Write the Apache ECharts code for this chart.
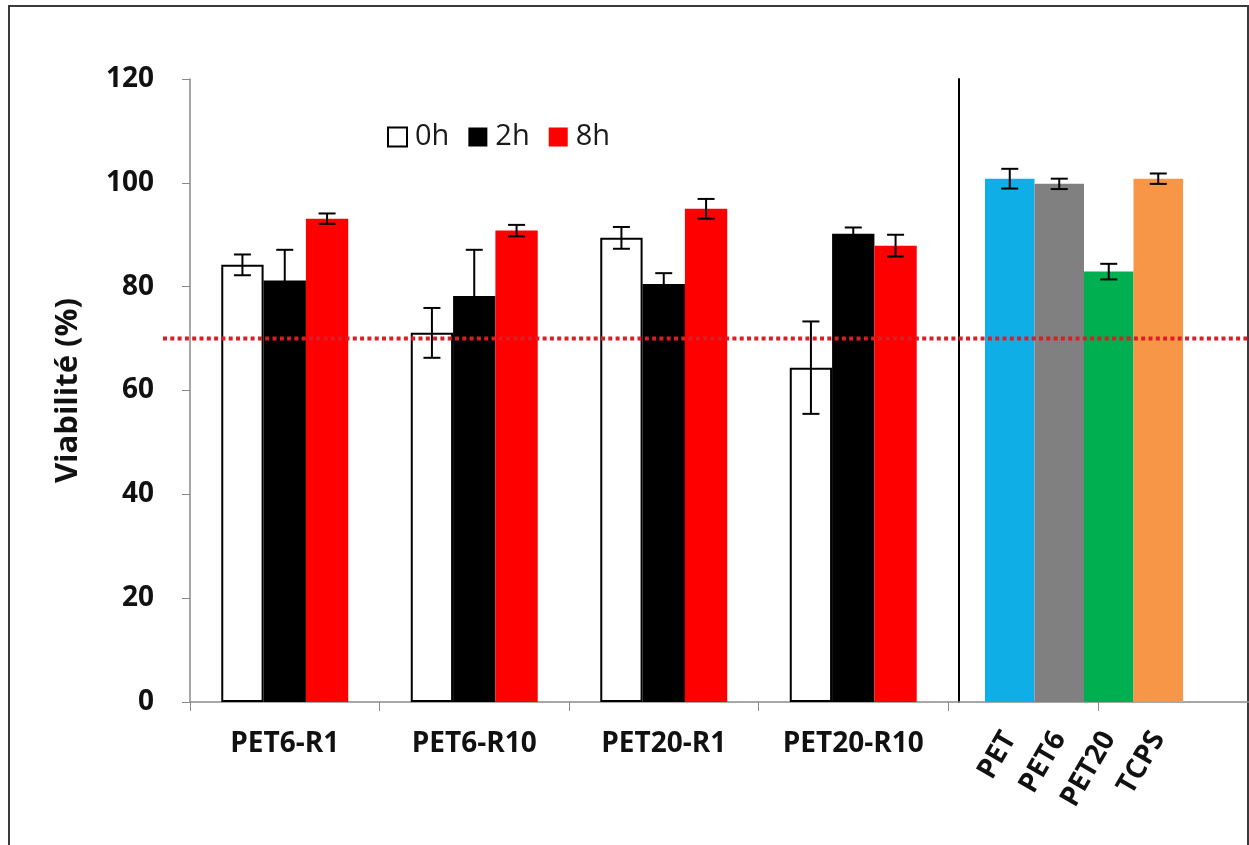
<!DOCTYPE html>
<html>
<head>
<meta charset="utf-8">
<script src="https://cdn.jsdelivr.net/npm/echarts@6/dist/echarts.min.js"></script>
<style>
  html, body { margin: 0; padding: 0; background: #fff; }
  #chart { width: 1249px; height: 845px; }
</style>
</head>
<body>
<div id="chart"></div>
<script>
// Cell viability after exposure (0h / 2h / 8h) and controls
const categories = ['PET6-R1', 'PET6-R10', 'PET20-R1', 'PET20-R10'];
const h0 = [84.2, 71.1, 89.4, 64.4];
const h0Err = [2, 4.8, 2.1, 8.9];
const h2 = [81.2, 78.2, 80.5, 90.2];
const h2Err = [5.9, 8.9, 2.1, 1.2];
const h8 = [93.1, 90.8, 95, 87.9];
const h8Err = [1, 1.1, 1.9, 2.1];

const controlNames = ['PET', 'PET6', 'PET20', 'TCPS'];
const controlValues = [100.8, 99.8, 82.9, 100.8];
const controlErr = [1.9, 1, 1.5, 1];
const controlColors = ['#10aee6', '#808080', '#00b050', '#f79646'];

const yTicks = [0, 20, 40, 60, 80, 100, 120];
const threshold = 70;

const FONT = '"Open Sans", "Liberation Sans", sans-serif';
const GAP = 0.33;

const chart = echarts.init(document.getElementById('chart'));

function errorBarShape(api, x, lo, hi) {
  const cap = 8.5;
  const style = { stroke: '#000', lineWidth: 2 };
  return {
    type: 'group',
    children: [
      { type: 'line', shape: { x1: x, y1: lo, x2: x, y2: hi }, style },
      { type: 'line', shape: { x1: x - cap, y1: lo, x2: x + cap, y2: lo }, style },
      { type: 'line', shape: { x1: x - cap, y1: hi, x2: x + cap, y2: hi }, style }
    ]
  };
}

function groupedErrorSeries(name, values, errs, slot) {
  return {
    type: 'custom',
    name: name + ' err',
    xAxisIndex: 0, yAxisIndex: 0,
    z: 5,
    data: values.map((v, i) => [i, v - errs[i], v + errs[i]]),
    encode: { x: 0, y: [1, 2] },
    renderItem: function (params, api) {
      const band = api.size([1, 0])[0];
      const bw = band * (1 - GAP) / 3;
      const lo = api.coord([api.value(0), api.value(1)]);
      const hi = api.coord([api.value(0), api.value(2)]);
      return errorBarShape(api, lo[0] + (slot - 1) * bw, lo[1], hi[1]);
    }
  };
}

const yAxisBase = { type: 'value', min: 0, max: 120, interval: 20 };

const option = {
  animation: false,
  backgroundColor: '#fff',
  graphic: [{
    type: 'rect',
    shape: { x: 9, y: 6, width: 1239, height: 900 },
    style: { fill: 'none', stroke: '#3a3a3a', lineWidth: 2 },
    silent: true
  }],
  legend: {
    data: ['0h', '2h', '8h'],
    left: 382, top: 117,
    itemWidth: 19, itemHeight: 19, itemGap: 19,
    icon: 'rect',
    textStyle: { fontFamily: FONT, fontSize: 29, color: '#1a1a1a', lineHeight: 30, padding: [0, 0, 0, 3] }
  },
  grid: [
    { left: 190, top: 79, width: 758, height: 623 },
    { left: 985, top: 79, width: 198, height: 623 },
    { left: 948, top: 79, width: 510, height: 623 },
    { left: 163, top: 79, width: 1100, height: 623 }
  ],
  xAxis: [
    {
      gridIndex: 0, type: 'category', data: categories,
      axisLine: { lineStyle: { color: '#8a8a8a', width: 1.5 } },
      axisTick: { show: true, length: 9, lineStyle: { color: '#8a8a8a' } },
      axisLabel: { interval: 0, fontFamily: FONT, fontWeight: 'bold', fontSize: 28, color: '#111', margin: 28 }
    },
    {
      gridIndex: 1, type: 'category', data: controlNames,
      axisLine: { show: false }, axisTick: { show: false },
      axisLabel: { interval: 0, rotate: 60, fontFamily: FONT, fontWeight: 'bold', fontSize: 28, color: '#111', margin: 32 }
    },
    {
      gridIndex: 2, type: 'category', data: ['', ''],
      axisLine: { lineStyle: { color: '#8a8a8a', width: 1.5 } },
      axisTick: { show: true, length: 9, lineStyle: { color: '#8a8a8a' } },
      axisLabel: { show: false }
    },
    { gridIndex: 3, type: 'value', min: 0, max: 1, show: false }
  ],
  yAxis: [
    Object.assign({}, yAxisBase, {
      gridIndex: 0,
      name: 'Viabilité (%)', nameLocation: 'middle', nameGap: 106,
      nameTextStyle: { fontFamily: FONT, fontWeight: 'bold', fontSize: 31, color: '#111' },
      axisLine: { show: true, lineStyle: { color: '#8a8a8a', width: 1.5 } },
      axisTick: { show: true, length: 8, lineStyle: { color: '#8a8a8a' } },
      splitLine: { show: false },
      axisLabel: {
        fontFamily: FONT, fontWeight: 'bold', fontSize: 28, color: '#111', margin: 36,
        formatter: v => (yTicks.indexOf(v) >= 0 ? String(v) : '')
      }
    }),
    Object.assign({}, yAxisBase, { gridIndex: 1, show: false }),
    Object.assign({}, yAxisBase, {
      gridIndex: 2, offset: -11,
      axisLine: { show: true, lineStyle: { color: '#000', width: 2 } },
      axisTick: { show: false }, axisLabel: { show: false }, splitLine: { show: false }
    }),
    Object.assign({}, yAxisBase, { gridIndex: 3, show: false })
  ],
  series: [
    {
      name: '0h', type: 'bar', xAxisIndex: 0, yAxisIndex: 0, data: h0,
      barGap: '0%', barCategoryGap: (GAP * 100) + '%',
      itemStyle: { color: '#ffffff', borderColor: '#000', borderWidth: 2 }
    },
    {
      name: '2h', type: 'bar', xAxisIndex: 0, yAxisIndex: 0, data: h2,
      barGap: '0%', barCategoryGap: (GAP * 100) + '%',
      itemStyle: { color: '#000000' }
    },
    {
      name: '8h', type: 'bar', xAxisIndex: 0, yAxisIndex: 0, data: h8,
      barGap: '0%', barCategoryGap: (GAP * 100) + '%',
      itemStyle: { color: '#ff0000' }
    },
    groupedErrorSeries('0h', h0, h0Err, 0),
    groupedErrorSeries('2h', h2, h2Err, 1),
    groupedErrorSeries('8h', h8, h8Err, 2),
    {
      name: 'controls', type: 'bar', xAxisIndex: 1, yAxisIndex: 1,
      barCategoryGap: '0%',
      data: controlValues.map((v, i) => ({ value: v, itemStyle: { color: controlColors[i] } }))
    },
    {
      type: 'custom', name: 'controls err', xAxisIndex: 1, yAxisIndex: 1, z: 5,
      data: controlValues.map((v, i) => [i, v - controlErr[i], v + controlErr[i]]),
      encode: { x: 0, y: [1, 2] },
      renderItem: function (params, api) {
        const lo = api.coord([api.value(0), api.value(1)]);
        const hi = api.coord([api.value(0), api.value(2)]);
        return errorBarShape(api, lo[0], lo[1], hi[1]);
      }
    },
    {
      // 70 % viability threshold
      type: 'line', name: 'threshold', xAxisIndex: 3, yAxisIndex: 3, z: 10,
      data: [[0, threshold], [1, threshold]],
      symbol: 'none',
      lineStyle: { color: '#dc1c26', width: 4, type: [4, 3.3] }
    }
  ]
};

chart.setOption(option);
</script>
</body>
</html>
